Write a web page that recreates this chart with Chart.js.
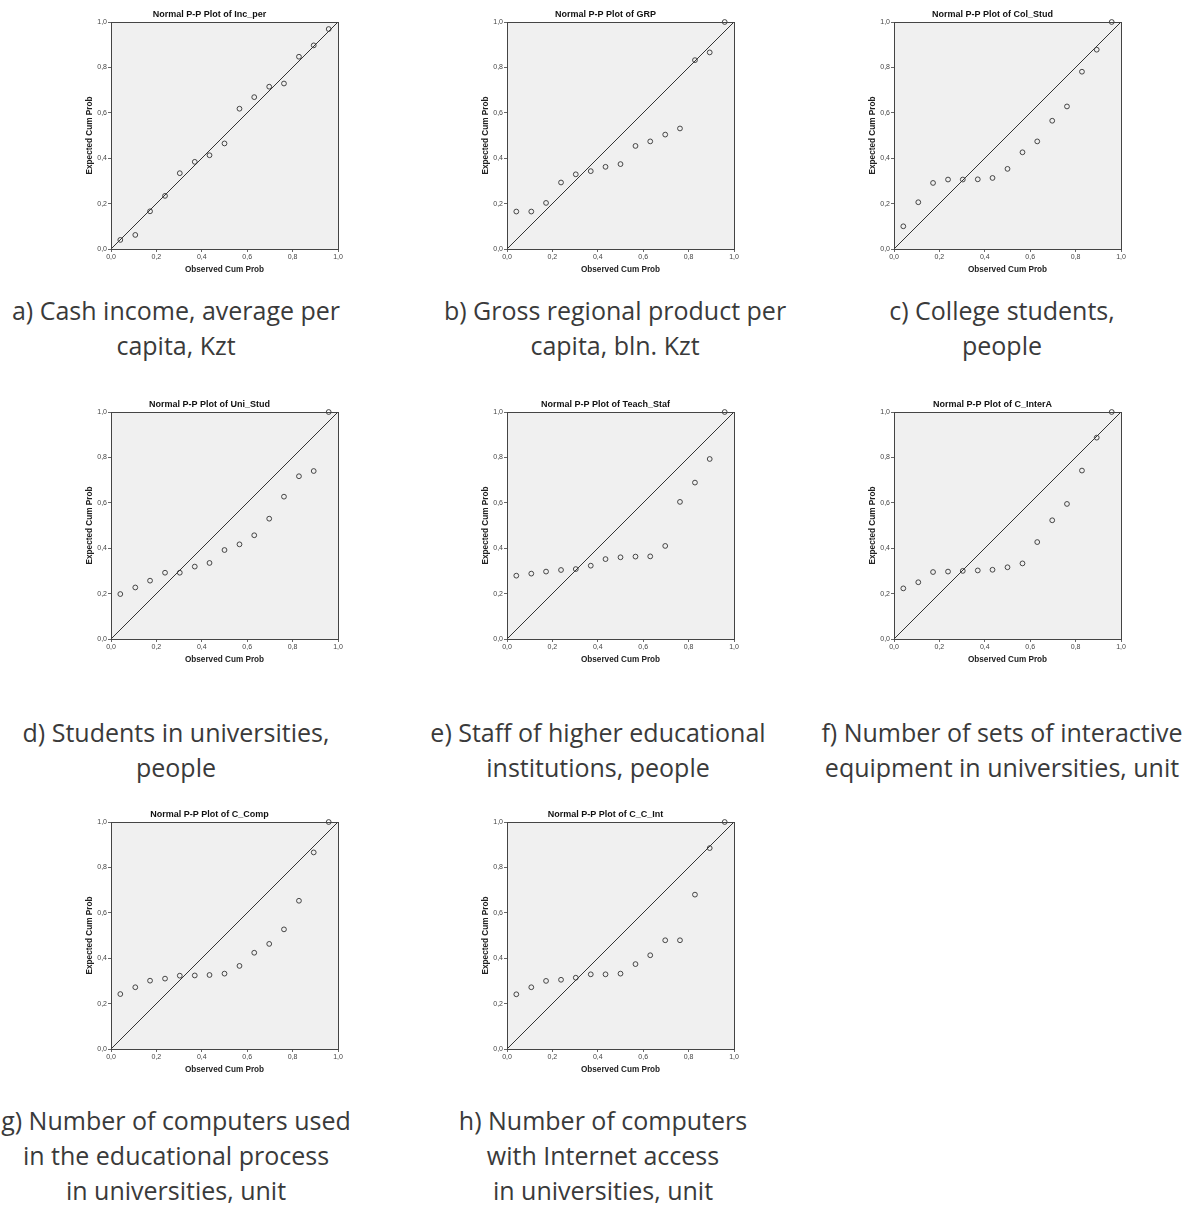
<!DOCTYPE html>
<html>
<head>
<meta charset="utf-8">
<script src="https://cdn.jsdelivr.net/npm/chart.js@4.4.1/dist/chart.umd.min.js"></script>
<style>
body{margin:0;background:#fff;width:1194px;height:1205px;position:relative;overflow:hidden}
.pp{position:absolute}
.cap{position:absolute;width:480px;margin-left:-240px;text-align:center;font-family:"Open Sans";font-size:25px;line-height:35px;color:#3a3a3a;white-space:nowrap}
</style>
</head>
<body>

<canvas class="pp" id="pp-0" width="266" height="275" style="left:81px;top:0px"></canvas>
<canvas class="pp" id="pp-1" width="266" height="275" style="left:477px;top:0px"></canvas>
<canvas class="pp" id="pp-2" width="266" height="275" style="left:864px;top:0px"></canvas>
<canvas class="pp" id="pp-3" width="266" height="275" style="left:81px;top:390px"></canvas>
<canvas class="pp" id="pp-4" width="266" height="275" style="left:477px;top:390px"></canvas>
<canvas class="pp" id="pp-5" width="266" height="275" style="left:864px;top:390px"></canvas>
<canvas class="pp" id="pp-6" width="266" height="275" style="left:81px;top:800px"></canvas>
<canvas class="pp" id="pp-7" width="266" height="275" style="left:477px;top:800px"></canvas>

<div class="cap" id="cap-0" style="left:176px;top:293px"></div>
<div class="cap" id="cap-1" style="left:615px;top:293px"></div>
<div class="cap" id="cap-2" style="left:1002px;top:293px"></div>
<div class="cap" id="cap-3" style="left:176px;top:715px"></div>
<div class="cap" id="cap-4" style="left:598px;top:715px"></div>
<div class="cap" id="cap-5" style="left:1002px;top:715px"></div>
<div class="cap" id="cap-6" style="left:176px;top:1103px"></div>
<div class="cap" id="cap-7" style="left:603px;top:1103px"></div>

<script>
// observed cumulative probabilities (same 15 regions in every plot)
var observed = [0.041, 0.107, 0.172, 0.238, 0.303, 0.369, 0.434, 0.5, 0.566, 0.631, 0.697, 0.762, 0.828, 0.893, 0.959];

// expected cumulative probabilities, one list per variable
var incPer    = [0.040, 0.062, 0.166, 0.234, 0.334, 0.384, 0.413, 0.465, 0.618, 0.669, 0.715, 0.729, 0.847, 0.897, 0.969];
var grp       = [0.165, 0.165, 0.203, 0.293, 0.329, 0.343, 0.362, 0.374, 0.454, 0.474, 0.504, 0.531, 0.832, 0.866, 1.0];
var colStud   = [0.100, 0.206, 0.291, 0.306, 0.306, 0.307, 0.313, 0.353, 0.426, 0.474, 0.565, 0.628, 0.781, 0.878, 1.0];
var uniStud   = [0.198, 0.227, 0.257, 0.292, 0.292, 0.319, 0.335, 0.392, 0.417, 0.457, 0.530, 0.627, 0.717, 0.740, 1.0];
var teachStaf = [0.279, 0.288, 0.297, 0.304, 0.308, 0.323, 0.352, 0.360, 0.363, 0.364, 0.410, 0.604, 0.689, 0.793, 1.0];
var cInterA   = [0.223, 0.250, 0.295, 0.297, 0.300, 0.302, 0.305, 0.316, 0.333, 0.427, 0.523, 0.595, 0.742, 0.887, 1.0];
var cComp     = [0.242, 0.272, 0.301, 0.310, 0.323, 0.324, 0.326, 0.332, 0.366, 0.424, 0.463, 0.527, 0.653, 0.866, 1.0];
var cCInt     = [0.241, 0.272, 0.300, 0.305, 0.314, 0.329, 0.329, 0.332, 0.374, 0.413, 0.479, 0.479, 0.680, 0.885, 1.0];

var varNames = ['Inc_per', 'GRP', 'Col_Stud', 'Uni_Stud', 'Teach_Staf', 'C_InterA', 'C_Comp', 'C_C_Int'];
var captions = [
  ['a) Cash income, average per', 'capita, Kzt'],
  ['b) Gross regional product per', 'capita, bln. Kzt'],
  ['c) College students,', 'people'],
  ['d) Students in universities,', 'people'],
  ['e) Staff of higher educational', 'institutions, people'],
  ['f) Number of sets of interactive', 'equipment in universities, unit'],
  ['g) Number of computers used', 'in the educational process', 'in universities, unit'],
  ['h) Number of computers', 'with Internet access', 'in universities, unit']
];
var axisTicks = [0, 0.2, 0.4, 0.6, 0.8, 1.0];
var series = [incPer, grp, colStud, uniStud, teachStaf, cInterA, cComp, cCInt];

// gray plot background + frame around it
var plotFrame = {
  id: 'plotFrame',
  beforeDraw: function(chart) {
    var a = chart.chartArea, ctx = chart.ctx
    ctx.save()
    ctx.fillStyle = '#f0f0f0'
    ctx.fillRect(a.left, a.top, a.right - a.left, a.bottom - a.top)
    ctx.restore()
  },
  afterDraw: function(chart) {
    var a = chart.chartArea, ctx = chart.ctx
    ctx.save()
    ctx.strokeStyle = '#444'
    ctx.lineWidth = 1
    ctx.strokeRect(Math.round(a.left) + 0.5, Math.round(a.top) + 0.5, Math.round(a.right - a.left), Math.round(a.bottom - a.top))
    ctx.restore()
  }
}

function commaTick(v) {
  return v.toFixed(1).replace('.', ',')
}

function axis(label, isX) {
  return {
    type: 'linear',
    min: 0,
    max: 1,
    afterBuildTicks: function(s) { s.ticks = axisTicks.map(function(v) { return {value: v} }) },
    ticks: {font: {family: 'Liberation Sans', size: 7}, color: '#444', padding: 1, callback: commaTick},
    grid: {drawOnChartArea: false, tickLength: 3, color: '#666'},
    border: {color: '#444'},
    title: {display: true, text: label, color: '#222', font: {family: 'Liberation Sans', size: 8.2, weight: 'bold'},
      padding: isX ? {top: 0, bottom: 0} : {top: 4, bottom: 0}},
    afterFit: function(s) {
      if (isX) s.height = 26
      else s.width = 30
    }
  }
}

Chart.defaults.animation = false

series.forEach(function(vals, i) {
  var pts = vals.map(function(v, k) { return {x: observed[k], y: v} })
  new Chart(document.getElementById('pp-' + i), {
    type: 'scatter',
    data: {
      datasets: [
        {
          data: pts,
          pointRadius: 2.4,
          pointBorderWidth: 0.9,
          borderColor: '#333',
          backgroundColor: 'rgba(0,0,0,0)',
          clip: false
        },
        {
          // y = x reference line across the axis range
          data: [{x: axisTicks[0], y: axisTicks[0]}, {x: axisTicks[5], y: axisTicks[5]}],
          showLine: true,
          pointRadius: 0,
          borderColor: '#333',
          borderWidth: 1
        }
      ]
    },
    options: {
      responsive: false,
      layout: {padding: {right: 9}},
      plugins: {
        legend: {display: false},
        tooltip: {enabled: false},
        title: {
          display: true,
          text: 'Normal P-P Plot of ' + varNames[i],
          color: '#111',
          font: {family: 'Liberation Sans', size: 9, weight: 'bold'},
          padding: {top: 9, bottom: 2.2}
        }
      },
      scales: {
        x: axis('Observed Cum Prob', true),
        y: axis('Expected Cum Prob', false)
      }
    },
    plugins: [plotFrame]
  })
  document.getElementById('cap-' + i).innerHTML = captions[i].join('<br>')
})
</script>
</body>
</html>
